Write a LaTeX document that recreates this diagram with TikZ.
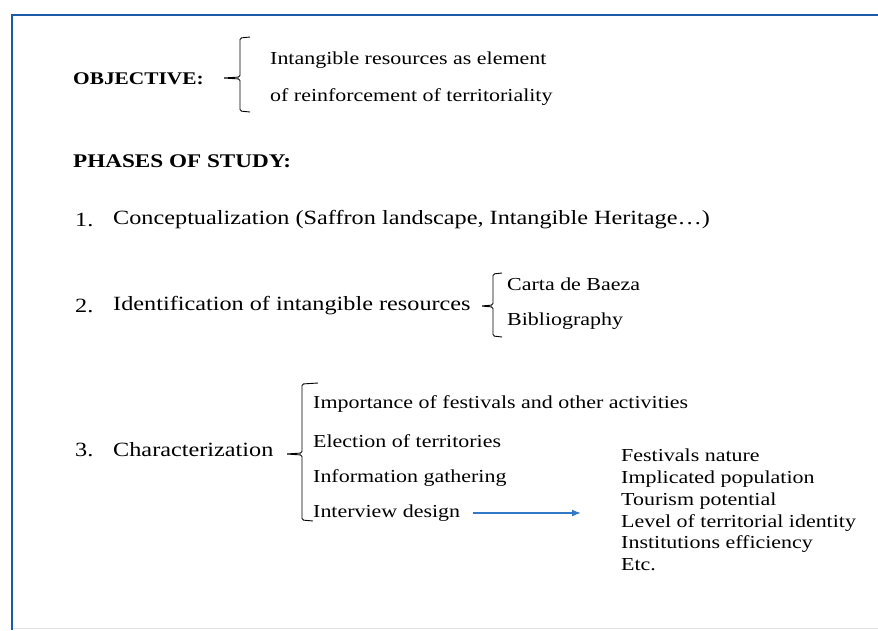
\documentclass[tikz,border=0pt]{standalone}
\usepackage{fontspec}
\setmainfont{Liberation Serif}[FakeStretch=1.2]
\usetikzlibrary{arrows.meta}
\definecolor{frameblue}{RGB}{30,90,170}
\definecolor{arrowblue}{RGB}{50,120,200}
\tikzset{
  txt/.style={anchor=west, inner sep=0pt, font=\fontsize{18.3}{21}\selectfont},
  phase/.style={txt, font=\fontsize{20.2}{23}\selectfont},
  head/.style={txt, font=\fontsize{17.8}{21}\selectfont\bfseries},
  bracket/.style={line width=0.9pt, rounded corners=1.5pt}
}
\begin{document}
\begin{tikzpicture}[x=1pt, y=-1pt]
  \useasboundingbox (0,0) rectangle (878,630);
  \fill[white] (0,0) rectangle (878,630);

  % frame
  \draw[gray!25] (12,628) -- (878,628);
  \draw[frameblue, line width=2.5pt] (12,630) -- (12,15) -- (878,15);

  % objective
  \node[head] (obj) at (73,79) {OBJECTIVE:};
  \node[txt] (obja) at (270,60) {Intangible resources as element};
  \node[txt] (objb) at (270,97) {of reinforcement of territoriality};
  \draw[bracket] (250,37) -- (240,38) -- (240,77) -- (223,78) -- (240,79) -- (240,111) -- (250,112);

  % phases
  \node[head, font=\fontsize{19.3}{22}\selectfont\bfseries] (phases) at (73,161) {PHASES OF STUDY:};

  \node[phase] (n1) at (75,220) {1.};
  \node[phase] (p1) at (113,220) {Conceptualization (Saffron landscape, Intangible Heritage\dots)};

  \node[phase] (n2) at (75,306) {2.};
  \node[phase] (p2) at (113,306) {Identification of intangible resources};
  \node[txt] (carta) at (507,284) {Carta de Baeza};
  \node[txt] (biblio) at (507,321) {Bibliography};
  \draw[bracket] (502,273) -- (493,274) -- (493,305) -- (481,306) -- (493,307) -- (493,336) -- (502,337);

  \node[phase] (n3) at (75,450) {3.};
  \node[phase] (p3) at (113,450) {Characterization};
  \node[txt] (imp) at (313,404) {Importance of festivals and other activities};
  \node[txt] (elec) at (313,441) {Election of territories};
  \node[txt] (info) at (313,478) {Information gathering};
  \node[txt] (inter) at (313,513) {Interview design};
  \draw[bracket] (318,383) -- (302,384) -- (302,453) -- (286,454) -- (302,455) -- (302,520) -- (313,521);

  % aspects of the interview
  \node[txt, align=left, font=\fontsize{18.3}{21.8}\selectfont] (aspects) at (621,510) {Festivals nature\\
    Implicated population\\
    Tourism potential\\
    Level of territorial identity\\
    Institutions efficiency\\
    Etc.};
  \draw[arrowblue, line width=1.6pt, -{Latex[length=9pt,width=7pt]}] ([xshift=13pt]inter.east) -- ([xshift=-40pt]aspects.west |- inter.east);
\end{tikzpicture}
\end{document}
